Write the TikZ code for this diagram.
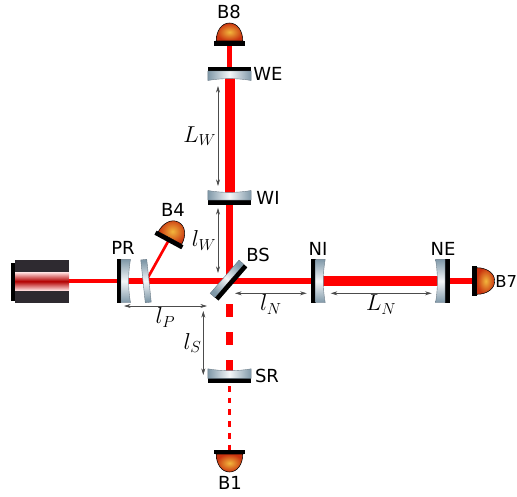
\documentclass[tikz,border=0pt]{standalone}
\usepackage{fontspec}
\setmainfont{DejaVu Sans}
\usetikzlibrary{arrows.meta}
\definecolor{glassend}{HTML}{7F98A8}
\definecolor{glassmid}{HTML}{F4F7F9}
\definecolor{glassline}{HTML}{6A7A86}
\definecolor{bodydark}{HTML}{2E2A30}
\definecolor{domein}{HTML}{F2B63C}
\definecolor{domeout}{HTML}{C9320F}
\tikzset{
	beamthick/.style={draw=red, line width=7.5pt},
	beamfull/.style={draw=red, line width=4.2pt},
	beamarm/.style={draw=red, line width=5pt},
	beamthin/.style={draw=red, line width=2.7pt},
	beampick/.style={draw=red, line width=2pt},
	beamsplit/.style={draw=red, line width=4.8pt, dash pattern=on 9.8pt off 11.2pt},
	beamdot/.style={draw=red, line width=2.4pt, dash pattern=on 4.2pt off 4.6pt},
	glass/.style={top color=glassend, bottom color=glassend, middle color=glassmid, shading angle=#1, draw=glassline, line width=.3pt},
	dimline/.style={{Stealth[length=5pt, width=3pt]}-{Stealth[length=5pt, width=3pt]}, draw=black!70, line width=.5pt},
	tag/.style={font=\fontsize{13.5}{16}\selectfont, inner sep=0pt},
	dimtag/.style={font=\LARGE, inner sep=1pt},
	pics/mirror/.style={code={
		\fill[black, rotate=#1] (-4.5,-21.7) rectangle (0,21.7);
		\draw[glass=#1, rotate=#1] (0,-21.7) -- (9.5,-21.7) .. controls (7,-8) and (7,8) .. (9.5,21.7) -- (0,21.7) -- cycle;
	}},
	pics/detector/.style={code={
		\draw[black, line width=.4pt, shading=radial, inner color=domein, outer color=domeout, rotate=#1] (0,-13.3) .. controls (10,-13.3) and (18,-8) .. (18,0) .. controls (18,8) and (10,13.3) .. (0,13.3) -- cycle;
		\fill[black, rotate=#1] (-4.5,-15.3) rectangle (0,15.3);
	}},
}

\begin{document}
\begin{tikzpicture}[x=.75pt, y=-.75pt]
	\useasboundingbox (0,0) rectangle (517,496);

	\coordinate (laser) at (69,281);
	\coordinate (PR) at (121,281);
	\coordinate (CP) at (146,281);
	\coordinate (BS) at (229.5,281);
	\coordinate (NI) at (315.7,281);
	\coordinate (NE) at (445,281);
	\coordinate (WI) at (229.5,200);
	\coordinate (WE) at (229.5,71);
	\coordinate (SR) at (229.5,378.3);
	\coordinate (B8) at (229.5,41);
	\coordinate (B7) at (476.7,281);
	\coordinate (B4) at (170,238);
	\coordinate (B1) at (229.5,454);
	\coordinate (srtop) at (229.5,304);
	\coordinate (dottop) at (229.5,386);

	% beams
	\draw[beamthin] (laser) -- (PR);
	\draw[beamfull] (PR) -- (BS);
	\draw[beamfull] (BS) -- (NI);
	\draw[beamthick] (NI) -- (NE);
	\draw[beamfull] (NE) -- (B7);
	\draw[beamarm] (BS) -- (WI);
	\draw[beamthick] (WI) -- (WE);
	\draw[beamfull] (WE) -- (B8);
	\draw[beampick] (CP) -- (B4);
	\draw[beamsplit] (srtop) -- (SR);
	\draw[beamdot] (dottop) -- (B1);

	% laser
	\fill[black] (11,263) rectangle (15,300.5);
	\fill[bodydark] (15,259.5) rectangle (69,303);
	\shade[top color=white!85!red, bottom color=white!85!red, middle color=red!70!black] (15,272.5) rectangle (69,290);

	% optics
	\pic at (PR) {mirror=0};
	\pic at (NI) {mirror=0};
	\pic at (NE) {mirror=180};
	\pic at (WI) {mirror=90};
	\pic at (WE) {mirror=-90};
	\pic at (SR) {mirror=90};
	\draw[glass=6, rotate around={6:(CP)}] (143,259.5) rectangle (149,302.5);
	\draw[glass=-41, rotate around={-41:(BS)}] (223,259) rectangle (229.5,303);
	\fill[black, rotate around={-41:(BS)}] (229.5,259) rectangle (234,303);

	\pic at (B8) {detector=90};
	\pic at (B7) {detector=0};
	\pic at (B4) {detector=61.6};
	\pic at (B1) {detector=-90};

	% labels
	\node[tag] (tB8) at (229,12) {B8};
	\node[tag] (tWE) at (268,74) {WE};
	\node[tag] (tWI) at (268,198) {WI};
	\node[tag] (tB4) at (173,210) {B4};
	\node[tag] (tPR) at (123,248) {PR};
	\node[tag] (tBS) at (258,255) {BS};
	\node[tag] (tNI) at (318,249) {NI};
	\node[tag] (tNE) at (443,249) {NE};
	\node[tag, anchor=west, font=\fontsize{12.3}{15}\selectfont] (tB7) at (495,282) {B7};
	\node[tag] (tSR) at (267,376) {SR};
	\node[tag] (tB1) at (230,483) {B1};

	% lengths
	\coordinate (LWa) at (218,86);
	\coordinate (LWb) at (218,186);
	\coordinate (lWa) at (218,208);
	\coordinate (lWb) at (218,273);
	\coordinate (lPa) at (124,306);
	\coordinate (lPb) at (207,306);
	\coordinate (lSa) at (203.3,311);
	\coordinate (lSb) at (203.3,375);
	\coordinate (lNa) at (235,293.3);
	\coordinate (lNb) at (306.7,293.3);
	\coordinate (LNa) at (330.7,293.3);
	\coordinate (LNb) at (431.7,293.3);

	\path (LWa) edge[dimline] node [dimtag,midway, left] {$L_W$} (LWb);
	\path (lWa) edge[dimline] node [dimtag,midway, left] {$l_W$} (lWb);
	\path (lPa) edge[dimline] node [dimtag,midway, below] {$l_P$} (lPb);
	\path (lSa) edge[dimline] node [dimtag,midway, left] {$l_S$} (lSb);
	\path (lNa) edge[dimline] node [dimtag,midway, below] {$l_N$} (lNb);
	\path (LNa) edge[dimline] node [dimtag,midway, below] {$L_N$} (LNb);
\end{tikzpicture}
\end{document}
